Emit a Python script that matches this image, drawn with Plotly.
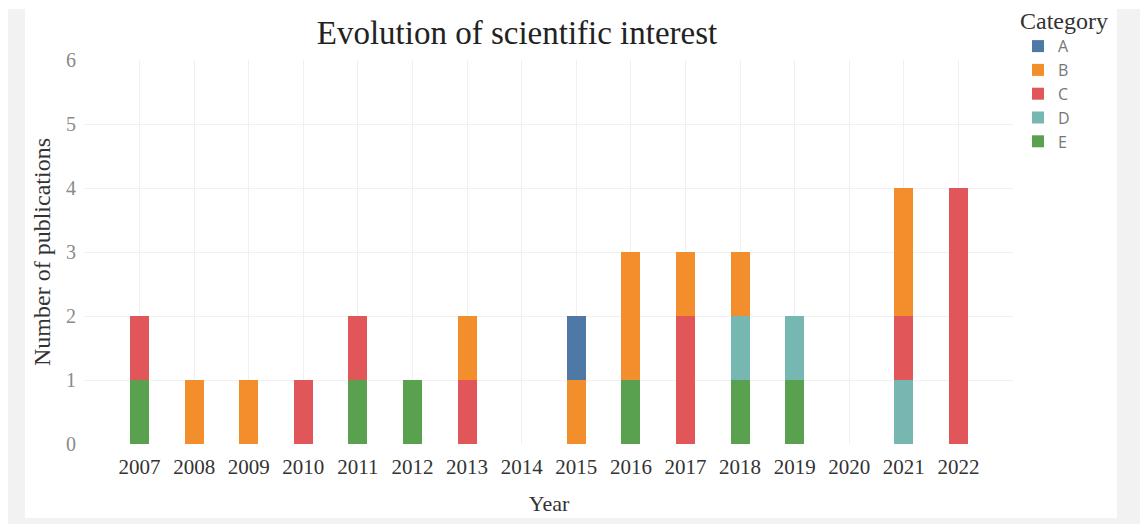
import plotly.graph_objects as go

# Publication counts per year, split by category
years = [2007, 2008, 2009, 2010, 2011, 2012, 2013, 2014,
         2015, 2016, 2017, 2018, 2019, 2020, 2021, 2022]
cat_A = [0, 0, 0, 0, 0, 0, 0, 0, 1, 0, 0, 0, 0, 0, 0, 0]
cat_B = [0, 1, 1, 0, 0, 0, 1, 0, 1, 2, 1, 1, 0, 0, 2, 0]
cat_C = [1, 0, 0, 1, 1, 0, 1, 0, 0, 0, 2, 0, 0, 0, 1, 4]
cat_D = [0, 0, 0, 0, 0, 0, 0, 0, 0, 0, 0, 1, 1, 0, 1, 0]
cat_E = [1, 0, 0, 0, 1, 1, 0, 0, 0, 1, 0, 1, 1, 0, 0, 0]
y_ticks = [0, 1, 2, 3, 4, 5, 6]

# Stacking order bottom -> top: E, D, C, B, A
series = [
    ("E", cat_E, "#59a14f"),
    ("D", cat_D, "#76b7b2"),
    ("C", cat_C, "#e15759"),
    ("B", cat_B, "#f28e2b"),
    ("A", cat_A, "#4e79a7"),
]

W, H = 1140, 524
L, R, T, B = 85, 127, 60, 80
pw, ph = W - L - R, H - T - B


def px(x):
    return (x - L) / pw


def py(y):
    return (H - B - y) / ph


SERIF = "Liberation Serif"

fig = go.Figure()
for name, vals, color in series:
    fig.add_trace(go.Bar(
        x=years, y=vals, name=name,
        marker=dict(color=color, line=dict(width=0)),
    ))

# grid positions include one slot either side of the year range
grid_vals = [years[0] - 1] + years + [years[-1] + 1]
grid_text = [""] + [str(y) for y in years] + [""]

fig.update_layout(
    width=W, height=H,
    margin=dict(l=L, r=R, t=T, b=B, autoexpand=False),
    barmode="stack",
    bargap=0.65,
    paper_bgcolor="white",
    plot_bgcolor="rgba(0,0,0,0)",
    title=dict(
        text="Evolution of scientific interest",
        x=517 / W, xanchor="center", xref="container",
        y=1 - 32 / H, yanchor="middle", yref="container",
        font=dict(family=SERIF, size=33, color="#222222"),
    ),
    xaxis=dict(
        range=[years[0] - 1, years[-1] + 1],
        tickmode="array", tickvals=grid_vals, ticktext=grid_text,
        showgrid=True, gridcolor="#f0f0f0", gridwidth=1,
        zeroline=False, showline=False, ticks="",
        ticklabelstandoff=8, automargin=False,
        tickfont=dict(family=SERIF, size=21, color="#333333"),
        title=dict(text="Year", standoff=17,
                   font=dict(family=SERIF, size=22, color="#333333")),
    ),
    yaxis=dict(
        range=[0, 6],
        tickmode="array", tickvals=y_ticks,
        ticktext=[str(v) for v in y_ticks],
        showgrid=True, gridcolor="#f0f0f0", gridwidth=1,
        zeroline=False, showline=False, ticks="",
        ticklabelstandoff=8, automargin=False,
        tickfont=dict(family=SERIF, size=20, color="#8a8a8a"),
        title=dict(text="Number of publications", standoff=8,
                   font=dict(family=SERIF, size=24, color="#333333")),
    ),
    legend=dict(
        title=dict(text="Category",
                   font=dict(family=SERIF, size=24, color="#333333")),
        traceorder="reversed",
        x=px(1018), xanchor="left",
        y=py(-2), yanchor="top",
        font=dict(family="Open Sans", size=16, color="#777777"),
        bgcolor="rgba(0,0,0,0)",
        itemwidth=30,
        tracegroupgap=0,
    ),
    shapes=[
        dict(type="rect", xref="paper", yref="paper", layer="below",
             x0=px(8), x1=px(W + 5), y0=py(9), y1=py(H + 5),
             fillcolor="#f2f2f2", line=dict(width=0)),
        dict(type="rect", xref="paper", yref="paper", layer="below",
             x0=px(25), x1=px(1117), y0=py(9), y1=py(518),
             fillcolor="white", line=dict(width=0)),
    ],
)

fig.write_html("out.html")
